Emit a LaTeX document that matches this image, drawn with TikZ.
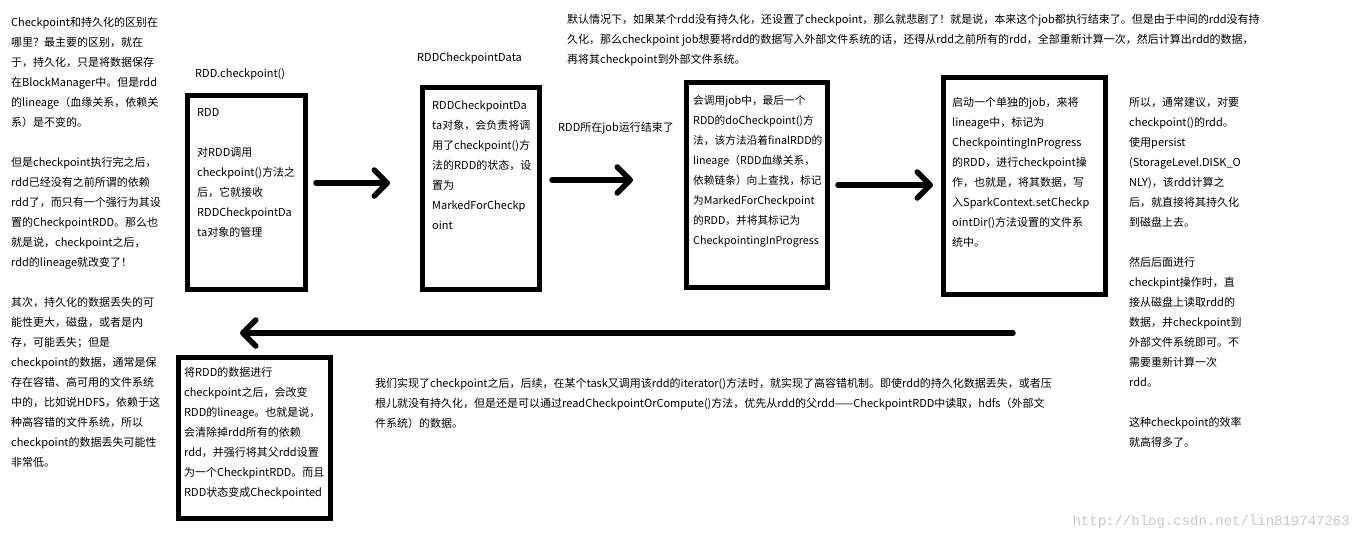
\documentclass[tikz,border=0pt]{standalone}
\usepackage{fontspec}
\newfontfamily\cjk{Noto Sans CJK SC}
\newfontfamily\wmfont{Liberation Mono}
\usetikzlibrary{arrows.meta}

\begin{document}
\begin{tikzpicture}[x=1pt, y=-1pt,
  font=\cjk\fontsize{11}{20}\selectfont,
  box/.style={draw, line width=5pt, inner sep=0pt},
  txt/.style={anchor=north west, align=left, inner sep=0pt,
    execute at begin node=\rule{0pt}{10.5pt}},
  bigarrow/.style={line width=5.5pt, line cap=round,
    -{Straight Barb[length=13pt, width=26pt, round]}}]
  \useasboundingbox (0,0) rectangle (1360,543);

  % 四个流程框 + 结果框（按像素坐标）
  \node[box, minimum width=118pt, minimum height=194pt] (rdd)   at (246.5,192.5) {};
  \node[box, minimum width=117pt, minimum height=202pt] (data)  at (481,188.5) {};
  \node[box, minimum width=141pt, minimum height=205pt] (job)   at (757,185) {};
  \node[box, minimum width=162pt, minimum height=217pt] (cp)    at (1024.5,186) {};
  \node[box, minimum width=152pt, minimum height=161pt] (after) at (254.5,438) {};

  % 箭头
  \draw[bigarrow] ([shift={(8,-9.5)}]rdd.east) -- ([shift={(-30,-5.5)}]data.west);
  \draw[bigarrow] ([shift={(10,-8.5)}]data.east) -- ([shift={(-51,-5)}]job.west);
  \draw[bigarrow] ([shift={(8,0)}]job.east) -- ([shift={(-8,-1)}]cp.west);
  \draw[bigarrow] ([shift={(-11.5,36)}]cp.south) -- ([shift={(-14.5,-22)}]after.north);

  % 框上方的标题
  \node[txt] (rddLab)  at (195,66.7)  {RDD.checkpoint()};
  \node[txt] (dataLab) at (417,50.7)  {RDDCheckpointData};
  \node[txt] (jobLab)  at (558,120.7) {RDD所在job运行结束了};

  % 框内文字
  \node[txt] (rddTxt) at (197,108.7) {RDD\\\mbox{}\\对RDD调用\\checkpoint()方法之\\后，它就接收\\RDDCheckpointDa\\ta对象的管理};
  \node[txt] (dataTxt) at (432,100.7) {RDDCheckpointDa\\ta对象，会负责将调\\用了checkpoint()方\\法的RDD的状态，设\\置为\\MarkedForCheckp\\oint};
  \node[txt, font=\cjk\fontsize{10.7}{20}\selectfont] (jobTxt) at (693,95.7) {会调用job中，最后一个\\RDD的doCheckpoint()方\\法，该方法沿着finalRDD的\\lineage（RDD血缘关系，\\依赖链条）向上查找，标记\\为MarkedForCheckpoint\\的RDD，并将其标记为\\CheckpointingInProgress};
  \node[txt] (cpTxt) at (952,96.7) {启动一个单独的job，来将\\lineage中，标记为\\CheckpointingInProgress\\的RDD，进行checkpoint操\\作，也就是，将其数据，写\\入SparkContext.setCheckp\\ointDir()方法设置的文件系\\统中。};
  \node[txt] (afterTxt) at (184,366.7) {将RDD的数据进行\\checkpoint之后，会改变\\RDD的lineage。也就是说，\\会清除掉rdd所有的依赖\\rdd，并强行将其父rdd设置\\为一个CheckpintRDD。而且\\RDD状态变成Checkpointed};

  % 周围的说明文字
  \node[txt] (noteL) at (11,16.7) {Checkpoint和持久化的区别在\\哪里？最主要的区别，就在\\于，持久化，只是将数据保存\\在BlockManager中。但是rdd\\的lineage（血缘关系，依赖关\\系）是不变的。\\\mbox{}\\但是checkpoint执行完之后，\\rdd已经没有之前所谓的依赖\\rdd了，而只有一个强行为其设\\置的CheckpointRDD。那么也\\就是说，checkpoint之后，\\rdd的lineage就改变了！\\\mbox{}\\其次，持久化的数据丢失的可\\能性更大，磁盘，或者是内\\存，可能丢失；但是\\checkpoint的数据，通常是保\\存在容错、高可用的文件系统\\中的，比如说HDFS，依赖于这\\种高容错的文件系统，所以\\checkpoint的数据丢失可能性\\非常低。};
  \node[txt] (noteT) at (567,13.7) {默认情况下，如果某个rdd没有持久化，还设置了checkpoint，那么就悲剧了！就是说，本来这个job都执行结束了。但是由于中间的rdd没有持\\久化，那么checkpoint job想要将rdd的数据写入外部文件系统的话，还得从rdd之前所有的rdd，全部重新计算一次，然后计算出rdd的数据，\\再将其checkpoint到外部文件系统。};
  \node[txt] (noteR) at (1129,96.7) {所以，通常建议，对要\\checkpoint()的rdd。\\使用persist\\(StorageLevel.DISK\_O\\NLY)，该rdd计算之\\后，就直接将其持久化\\到磁盘上去。\\\mbox{}\\然后后面进行\\checkpint操作时，直\\接从磁盘上读取rdd的\\数据，并checkpoint到\\外部文件系统即可。不\\需要重新计算一次\\rdd。\\\mbox{}\\这种checkpoint的效率\\就高得多了。};
  \node[txt] (noteB) at (375,377.7) {我们实现了checkpoint之后，后续，在某个task又调用该rdd的iterator()方法时，就实现了高容错机制。即使rdd的持久化数据丢失，或者压\\根儿就没有持久化，但是还是可以通过readCheckpointOrCompute()方法，优先从rdd的父rdd——CheckpointRDD中读取，hdfs（外部文\\件系统）的数据。};

  % 水印
  \node[anchor=east, inner sep=0pt, font=\wmfont\fontsize{14}{16}\selectfont, text=black!22]
    (mark) at (1350,522) {http://blog.csdn.net/lin819747263};
\end{tikzpicture}
\end{document}
